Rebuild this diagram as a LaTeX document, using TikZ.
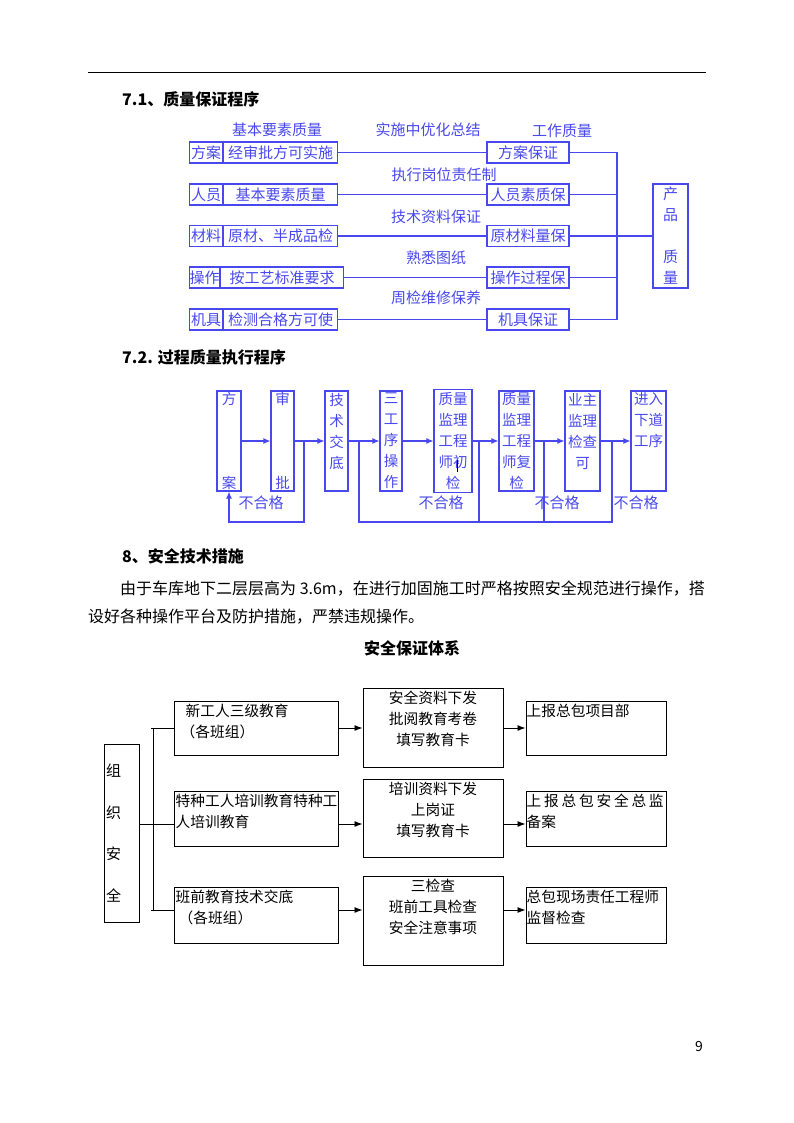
\documentclass[tikz,border=0pt]{standalone}
\usepackage{fontspec}
\setmainfont{Noto Sans CJK SC}
\usetikzlibrary{arrows.meta,positioning}
\definecolor{qblue}{RGB}{72,72,238}
\tikzset{%
	qcell/.style     = {draw=qblue, line width=1.1pt, inner sep=0pt, minimum height=21pt,
		text=qblue, font=\fontsize{15}{18}\selectfont},
	qlabel/.style    = {text=qblue, inner sep=0pt, font=\fontsize{15}{18}\selectfont},
	qline/.style     = {draw=qblue, line width=1.1pt},
	flowbox/.style   = {draw=qblue, line width=1.1pt, inner sep=0pt, minimum height=100pt,
		text=qblue, align=center, font=\fontsize{14.5}{21}\selectfont},
	flowarrow/.style = {qline, -{Latex[length=7pt,width=6pt]}},
	safebox/.style   = {draw, line width=1pt, inner sep=0pt},
	safetext/.style  = {inner xsep=2pt, inner ysep=3.5pt, align=left,
		font=\fontsize{14.7}{21}\selectfont},
	safearrow/.style = {line width=0.9pt, -{Latex[length=8pt,width=6pt]}},
	heading/.style   = {anchor=west, inner sep=0pt, font=\bfseries\fontsize{16}{20}\selectfont},
	bodytext/.style  = {anchor=west, inner sep=0pt, font=\fontsize{16}{20}\selectfont}
}
\begin{document}
\begin{tikzpicture}[x=1pt,y=-1pt]
	\useasboundingbox (0,0) rectangle (794,1123);
	\draw[line width=0.8pt] (88,72) -- (706,72);
	
	% 7.1
	\node[heading] (titleQuality) at (122,99) {7.1、质量保证程序};
	
	\node[qcell, minimum width=33pt, anchor=west]  (planTag)     at (189,152.5) {方案};
	\node[qcell, minimum width=114pt, anchor=west] (planRule)    at (planTag.east) {经审批方可实施};
	\node[qcell, minimum width=33pt, anchor=west]  (staffTag)    at (189,194.5) {人员};
	\node[qcell, minimum width=114pt, anchor=west] (staffRule)   at (staffTag.east) {基本要素质量};
	\node[qcell, minimum width=33pt, anchor=west]  (materialTag) at (189,236) {材料};
	\node[qcell, minimum width=114pt, anchor=west] (materialRule) at (materialTag.east) {原材、半成品检};
	\node[qcell, minimum width=30pt, anchor=west]  (operateTag)  at (189,277.5) {操作};
	\node[qcell, minimum width=123pt, anchor=west] (operateRule) at (operateTag.east) {按工艺标准要求};
	\node[qcell, minimum width=33pt, anchor=west]  (toolTag)     at (189,319.5) {机具};
	\node[qcell, minimum width=114pt, anchor=west] (toolRule)    at (toolTag.east) {检测合格方可使};
	
	\node[qlabel] (noteBasic)   at (277,130) {基本要素质量};
	\node[qlabel] (noteOptim)   at (428,130) {实施中优化总结};
	\node[qlabel] (noteWork)    at (562,131) {工作质量};
	\node[qlabel] (noteDuty)    at (444,175) {执行岗位责任制};
	\node[qlabel] (noteData)    at (436,217) {技术资料保证};
	\node[qlabel] (noteDrawing) at (436,258) {熟悉图纸};
	\node[qlabel] (noteRepair)  at (436,298) {周检维修保养};
	
	\node[qcell, minimum width=82pt] (planOk)     at (528,152.5) {方案保证};
	\node[qcell, minimum width=82pt] (staffOk)    at (528,194.5) {人员素质保};
	\node[qcell, minimum width=82pt] (materialOk) at (528,236) {原材料量保};
	\node[qcell, minimum width=82pt] (operateOk)  at (528,277.5) {操作过程保};
	\node[qcell, minimum width=82pt] (toolOk)     at (528,319.5) {机具保证};
	
	\node[qcell, minimum width=35pt, minimum height=104pt, align=center,
		font=\fontsize{15}{21}\selectfont] (product) at (670.5,236) {产\\品\\~\\质\\量};
	
	\draw[qline] (planRule) -- (planOk);
	\draw[qline] (staffRule) -- (staffOk);
	\draw[qline] (materialRule) -- (materialOk);
	\draw[qline] (operateRule) -- (operateOk);
	\draw[qline] (toolRule) -- (toolOk);
	\coordinate (qualityBus) at (617,236);
	\draw[qline] (planOk.east) -- (planOk.east -| qualityBus) -- (toolOk.east -| qualityBus) -- (toolOk.east);
	\draw[qline] (staffOk.east) -- (staffOk.east -| qualityBus);
	\draw[qline] (operateOk.east) -- (operateOk.east -| qualityBus);
	\draw[qline] (materialOk.east) -- (product.west);
	
	% 7.2
	\node[heading] (titleProcess) at (122,357) {7.2. 过程质量执行程序};
	
	\node[flowbox, minimum width=24pt] (scheme)     at (229,441)   {方\\~\\~\\~\\案};
	\node[flowbox, minimum width=23pt] (approve)    at (282.5,441) {审\\~\\~\\~\\批};
	\node[flowbox, minimum width=23pt] (briefing)   at (336.5,441) {技\\术\\交\\底\\~};
	\node[flowbox, minimum width=22pt] (process)    at (391,441)   {三\\工\\序\\操\\作};
	\node[flowbox, minimum width=38pt, minimum height=103pt] (firstCheck) at (453,441) {质量\\监理\\工程\\师初\\检};
	\node[flowbox, minimum width=35pt] (reCheck)    at (516.5,441) {质量\\监理\\工程\\师复\\检};
	\node[flowbox, minimum width=35pt] (ownerCheck) at (582.5,441) {业主\\监理\\检查\\可\\~};
	\node[flowbox, minimum width=35pt] (nextStep)   at (648.5,441) {进入\\下道\\工序\\~\\~};
	\draw[line width=1pt] (457,460) -- (457,472);
	
	\draw[flowarrow] (scheme) -- (approve);
	\draw[flowarrow] (approve) -- (briefing);
	\draw[flowarrow] (briefing) -- (process);
	\draw[flowarrow] (process) -- (firstCheck);
	\draw[flowarrow] (firstCheck) -- (reCheck);
	\draw[flowarrow] (reCheck) -- (ownerCheck);
	\draw[flowarrow] (ownerCheck) -- (nextStep);
	
	\coordinate (backA) at (304,441);
	\coordinate (backB) at (359,441);
	\coordinate (backC) at (479,441);
	\coordinate (backD) at (544,441);
	\coordinate (backE) at (612,441);
	\coordinate (backLow) at (0,522);
	\draw[flowarrow] (backA) -- (backA |- backLow) -| (scheme.south);
	\draw[qline] (backB) -- (backB |- backLow) -| (backE);
	\draw[qline] (backC) -- (backC |- backLow);
	\draw[qline] (backD) -- (backD |- backLow);
	\node[qlabel] (failA) at (261,503) {不合格};
	\node[qlabel] (failB) at (441,503) {不合格};
	\node[qlabel] (failC) at (557,503) {不合格};
	\node[qlabel] (failD) at (636,503) {不合格};
	
	% 8
	\node[heading] (titleSafety) at (122,556) {8、安全技术措施};
	\node[bodytext] (textLineA) at (120,589) {由于车库地下二层层高为 3.6m，在进行加固施工时严格按照安全规范进行操作，搭};
	\node[bodytext] (textLineB) at (88,617) {设好各种操作平台及防护措施，严禁违规操作。};
	\node[heading, anchor=center] (titleSystem) at (412,648) {安全保证体系};
	
	\node[safebox, minimum width=35pt, minimum height=178pt, text width=31pt, inner xsep=2pt,
		align=left, font=\fontsize{15}{41.5}\selectfont] (organize) at (121.5,833) {组\\织\\安\\全};
	
	\node[safebox, minimum width=164pt, minimum height=54pt,
		label={[safetext, anchor=north west]north west:{\hspace*{10pt}新工人三级教育\\\hspace*{5pt}（各班组）}}] (newWorker) at (256,728) {};
	\node[safebox, minimum width=164pt, minimum height=55pt,
		label={[safetext, anchor=north west]north west:{特种工人培训教育特种工\\人培训教育}}] (specialWorker) at (256,818.5) {};
	\node[safebox, minimum width=164pt, minimum height=56pt,
		label={[safetext, anchor=north west]north west:{班前教育技术交底\\\hspace*{3pt}（各班组）}}] (shiftBrief) at (256,915) {};
	
	\node[safebox, minimum width=140pt, minimum height=79pt,
		label={[safetext, align=center, anchor=north]north:{安全资料下发\\批阅教育考卷\\填写教育卡}}] (safeDocs) at (433,727.5) {};
	\node[safebox, minimum width=140pt, minimum height=78pt,
		label={[safetext, align=center, anchor=north]north:{培训资料下发\\上岗证\\填写教育卡}}] (trainDocs) at (433,818) {};
	\node[safebox, minimum width=140pt, minimum height=89pt,
		label={[safetext, align=center, anchor=north]north:{三检查\\班前工具检查\\安全注意事项}}] (threeCheck) at (433,920.5) {};
	
	\node[safebox, minimum width=140pt, minimum height=54pt,
		label={[safetext, inner xsep=1pt, anchor=north west]north west:{上报总包项目部}}] (reportDept) at (596,728) {};
	\node[safebox, minimum width=140pt, minimum height=55pt,
		label={[safetext, inner xsep=1pt, anchor=north west]north west:{\hbox to 137pt{上\hfill 报\hfill 总\hfill 包\hfill 安\hfill 全\hfill 总\hfill 监}\\备案}}] (reportChief) at (596,818.5) {};
	\node[safebox, minimum width=140pt, minimum height=56pt,
		label={[safetext, inner xsep=1pt, anchor=north west]north west:{总包现场责任工程师\\监督检查}}] (reportEngineer) at (596,915) {};
	
	\coordinate (levelA) at (0,728);
	\coordinate (levelB) at (0,824);
	\coordinate (levelC) at (0,910);
	\coordinate (trunk) at (153,824);
	\draw[line width=0.9pt] (organize.east |- levelB) -- (specialWorker.west |- levelB);
	\draw[line width=0.9pt] (trunk |- levelA) -- (trunk |- levelC);
	\draw[line width=0.9pt] ([xshift=-2pt]trunk |- levelA) -- (newWorker.west |- levelA);
	\draw[line width=0.9pt] ([xshift=-2pt]trunk |- levelC) -- (shiftBrief.west |- levelC);
	
	\draw[safearrow] (newWorker.east |- levelA) -- (safeDocs.west |- levelA);
	\draw[safearrow] (specialWorker.east |- levelB) -- (trainDocs.west |- levelB);
	\draw[safearrow] (shiftBrief.east |- levelC) -- (threeCheck.west |- levelC);
	\draw[safearrow] (safeDocs.east |- levelA) -- (reportDept.west |- levelA);
	\draw[safearrow] (trainDocs.east |- levelB) -- (reportChief.west |- levelB);
	\draw[safearrow] (threeCheck.east |- levelC) -- (reportEngineer.west |- levelC);
	
	\node[inner sep=0pt, font=\fontsize{14}{16}\selectfont] (pageNo) at (699,1046) {9};
\end{tikzpicture}
\end{document}
